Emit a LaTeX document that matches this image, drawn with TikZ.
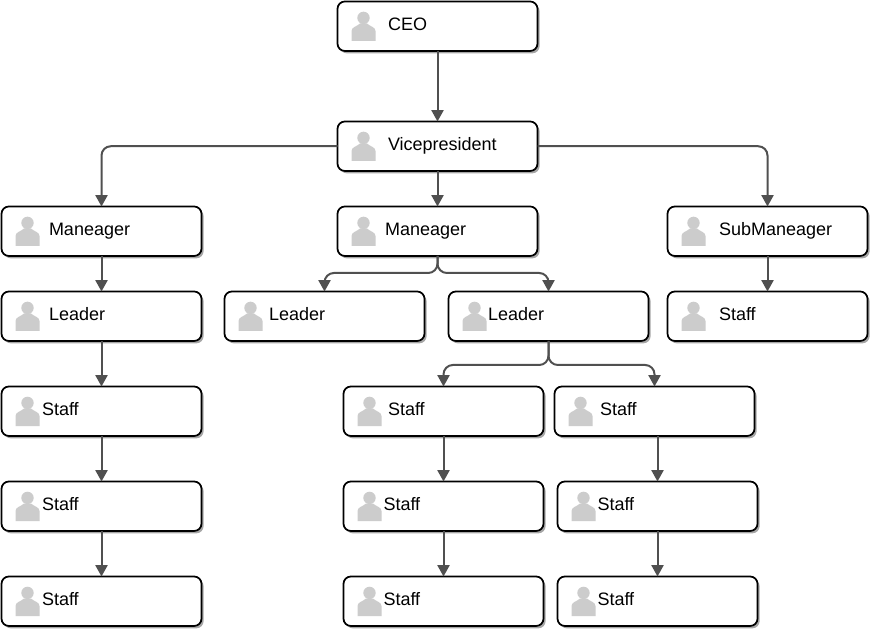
\documentclass[tikz,border=0pt]{standalone}
\usepackage{fontspec}
\setmainfont{Liberation Sans}
\usetikzlibrary{arrows.meta,shadows}

\definecolor{linkgrey}{RGB}{80,80,80}
\definecolor{icongrey}{RGB}{204,204,204}

\tikzset{every picture/.style={line width=0.75pt}}
\tikzset{
  cardbox/.style={draw=black,fill=white,line width=1.3pt,rounded corners=5.5pt,anchor=north west,
    minimum width=150pt,minimum height=37.1pt,inner sep=0pt,outer sep=0pt,
    drop shadow={shadow xshift=1.6pt,shadow yshift=-1.8pt,opacity=0.35,fill=black}},
  cardtext/.style={anchor=base west,inner sep=0pt,font=\fontsize{13.5}{15}\selectfont},
  link/.style={draw=linkgrey,line width=1.5pt,-{Triangle[length=8.5pt,width=9pt]}},
  elbow/.style={link,rounded corners=7pt}
}

% box at (x,y), icon at x+#4, text at x+#5
\newcommand{\card}[6]{%
  \node[cardbox] (#1) at (#2,#3) {};
  \fill[icongrey] ({#2+#4},{#3+39.5}) -- ({#2+#4},{#3+29.5}) .. controls ({#2+#4},{#3+25.5}) and ({#2+#4+5.5},{#3+25}) .. ({#2+#4+8.5},{#3+22})
    -- ({#2+#4+15.5},{#3+22}) .. controls ({#2+#4+18.5},{#3+25}) and ({#2+#4+24},{#3+25.5}) .. ({#2+#4+24},{#3+29.5}) -- ({#2+#4+24},{#3+39.5}) -- cycle;
  \fill[icongrey] ({#2+#4+12},{#3+16.4}) circle[radius=6.2];
  \node[cardtext] (#1text) at ({#2+#5},{#3+29}) {#6};
}

\begin{document}
\begin{tikzpicture}[x=0.75pt,y=0.75pt,yscale=-1,xscale=1]
\useasboundingbox (0,0) rectangle (870,630);

% Top
\card{ceo}{337.5}{1.5}{14}{50}{CEO}
\card{vice}{337.5}{121.5}{14}{50}{Vicepresident}
% Row of managers
\card{mgrleft}{1.5}{206.5}{14}{47}{Maneager}
\card{mgrmid}{337.5}{206.5}{14}{47}{Maneager}
\card{submgr}{667.5}{206.5}{14}{51}{SubManeager}
% Row of leaders
\card{leadleft}{1.5}{291.5}{14}{47}{Leader}
\card{leadmida}{224.5}{291.5}{14}{44}{Leader}
\card{leadmidb}{448.5}{291.5}{14}{39}{Leader}
\card{staffright}{667.5}{291.5}{14}{51}{Staff}
% Staff
\card{staffla}{1.5}{386.5}{14}{40}{Staff}
\card{stafflb}{1.5}{481.5}{14}{40}{Staff}
\card{stafflc}{1.5}{576.5}{14}{40}{Staff}
\card{staffma}{343.5}{386.5}{14}{44}{Staff}
\card{staffmb}{343.5}{481.5}{14}{39.5}{Staff}
\card{staffmc}{343.5}{576.5}{14}{39.5}{Staff}
\card{staffna}{554.5}{386.5}{14}{45}{Staff}
\card{staffnb}{557.5}{481.5}{14}{39.5}{Staff}
\card{staffnc}{557.5}{576.5}{14}{39.5}{Staff}

% Links
\draw[link] (ceo) -- (vice);
\draw[link] (vice) -- (mgrmid);
\draw[elbow] (vice.west) -| (mgrleft.north);
\draw[elbow] (vice.east) -| (submgr.north);
\draw[link] (mgrleft) -- (leadleft);
\draw[link] (leadleft) -- (staffla);
\draw[link] (staffla) -- (stafflb);
\draw[link] (stafflb) -- (stafflc);
\draw[link] (submgr) -- (staffright);
\draw[elbow] (mgrmid.south) |- (380,273) -| (leadmida.north);
\draw[elbow] (mgrmid.south) |- (500,273) -| (leadmidb.north);
\draw[elbow] (leadmidb.south) |- (500,365) -| (staffma.north);
\draw[elbow] (leadmidb.south) |- (600,365) -| (staffna.north);
\draw[link] (staffma) -- (staffmb);
\draw[link] (staffmb) -- (staffmc);
\draw[link] (staffnb.north |- staffna.south) -- (staffnb.north);
\draw[link] (staffnb) -- (staffnc);

\end{tikzpicture}
\end{document}
